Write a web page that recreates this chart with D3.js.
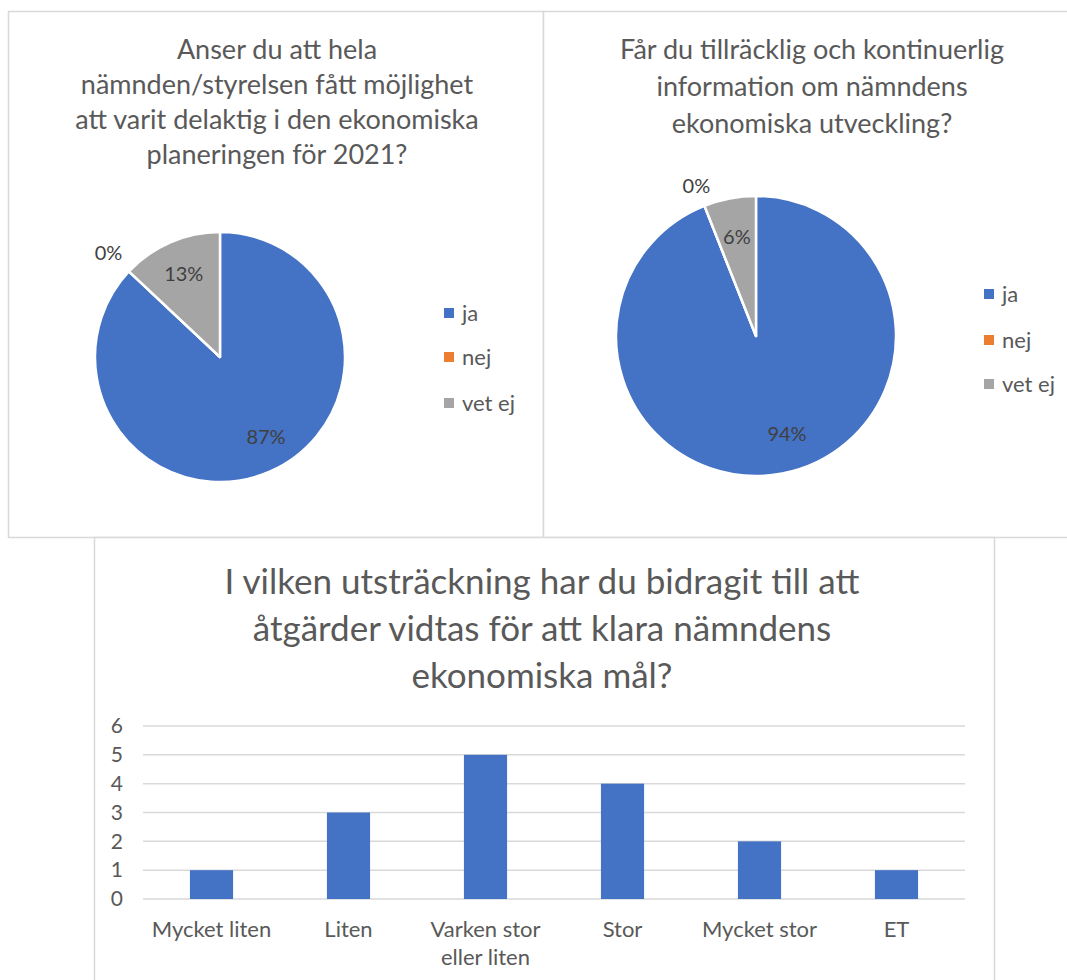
<!DOCTYPE html>
<html>
<head>
<meta charset="utf-8">
<script src="https://cdn.jsdelivr.net/npm/d3@7"></script>
<style>
  body { margin: 0; background: #fff; }
  svg { display: block; font-family: Lato, "Open Sans", sans-serif; }
</style>
</head>
<body>
<div id="chart"></div>
<script>
// pie data (percent)
const pieKeys = ["ja", "nej", "vet ej"];
const pieColors = ["#4472c4", "#ed7d31", "#a5a5a5"];
const pie1Values = [87, 0, 13];
const pie2Values = [94, 0, 6];
const pie1Title = ["Anser du att hela", "nämnden/styrelsen fått möjlighet", "att varit delaktig i den ekonomiska", "planeringen för 2021?"];
const pie2Title = ["Får du tillräcklig och kontinuerlig", "information om nämndens", "ekonomiska utveckling?"];

// bar data
const barCategories = ["Mycket liten", "Liten", "Varken stor eller liten", "Stor", "Mycket stor", "ET"];
const barValues = [1, 3, 5, 4, 2, 1];
const barTicks = [0, 1, 2, 3, 4, 5, 6];
const barTitle = ["I vilken utsträckning har du bidragit till att", "åtgärder vidtas för att klara nämndens", "ekonomiska mål?"];

const W = 1067, H = 980;
const FONT = "Lato, 'Open Sans', sans-serif";
const svg = d3.select("#chart").append("svg")
  .attr("width", W).attr("height", H);

svg.append("rect").attr("width", W).attr("height", H).attr("fill", "#fff");

// chart frames
const frames = [
  {x: 8.5, y: 11.5, w: 535, h: 526},
  {x: 543.5, y: 11.5, w: 540, h: 526},
  {x: 94.5, y: 537.5, w: 900, h: 460}
];
frames.forEach(f => {
  svg.append("rect")
    .attr("x", f.x).attr("y", f.y).attr("width", f.w).attr("height", f.h)
    .attr("fill", "#fff").attr("stroke", "#d9d9d9").attr("stroke-width", 1.5);
});

function drawPie(opt) {
  const g = svg.append("g");

  // title
  g.append("text")
    .attr("text-anchor", "middle")
    .attr("font-size", 27)
    .attr("fill", "#595959")
    .selectAll("tspan")
    .data(opt.title)
    .join("tspan")
    .attr("x", opt.titleX)
    .attr("y", (d, i) => opt.titleY + i * opt.lineH)
    .text(d => d);

  const pie = d3.pie().sort(null).value(d => d.value);
  const data = pie(pieKeys.map((k, i) => ({key: k, value: opt.values[i], color: pieColors[i]})));
  const arc = d3.arc().innerRadius(0).outerRadius(opt.r);

  const pg = g.append("g").attr("transform", `translate(${opt.cx},${opt.cy})`);
  pg.selectAll("path")
    .data(data)
    .join("path")
    .attr("d", arc)
    .attr("fill", d => d.data.color)
    .attr("stroke", "#fff")
    .attr("stroke-width", 2.5)
    .attr("stroke-linejoin", "round");

  // data labels: inside for slices, outside for empty ones
  pg.selectAll("text")
    .data(data)
    .join("text")
    .attr("text-anchor", "middle")
    .attr("dominant-baseline", "central")
    .attr("font-size", 20)
    .attr("fill", "#404040")
    .attr("transform", d => {
      let a = (d.startAngle + d.endAngle) / 2;
      // big slice label sits a bit before its middle, like Excel best fit
      if (d.value > 50) a -= 0.12;
      const rr = d.value === 0 ? opt.r + opt.outside : opt.r * 0.73;
      return `translate(${Math.sin(a) * rr},${-Math.cos(a) * rr})`;
    })
    .text(d => d.value + "%");

  // legend
  const lg = g.append("g");
  const item = lg.selectAll("g")
    .data(pieKeys)
    .join("g")
    .attr("transform", (d, i) => `translate(${opt.legX},${opt.legY[i]})`);
  item.append("rect")
    .attr("x", 0).attr("y", -5).attr("width", 10).attr("height", 10)
    .attr("fill", (d, i) => pieColors[i]);
  item.append("text")
    .attr("x", 18).attr("dy", "0.35em")
    .attr("font-size", 22).attr("fill", "#595959")
    .text(d => d);
}

drawPie({title: pie1Title, titleX: 277, titleY: 59, lineH: 35,
  values: pie1Values, cx: 220, cy: 357, r: 125, outside: 28,
  legX: 444, legY: [313, 357, 403]});

drawPie({title: pie2Title, titleX: 812, titleY: 59, lineH: 37,
  values: pie2Values, cx: 756, cy: 336, r: 140, outside: 22,
  legX: 984, legY: [294, 340, 384]});

// bar chart
const bg = svg.append("g");
bg.append("text")
  .attr("text-anchor", "middle")
  .attr("font-size", 35)
  .attr("fill", "#595959")
  .selectAll("tspan")
  .data(barTitle)
  .join("tspan")
  .attr("x", 542)
  .attr("y", (d, i) => 594 + i * 47)
  .text(d => d);

const x = d3.scaleBand().domain(barCategories).range([143, 965]).padding(0);
const y = d3.scaleLinear().domain([0, 6]).range([899, 726]);

// gridlines
bg.append("g")
  .selectAll("line")
  .data(barTicks)
  .join("line")
  .attr("x1", 143).attr("x2", 965)
  .attr("y1", d => y(d)).attr("y2", d => y(d))
  .attr("stroke", "#d9d9d9").attr("stroke-width", 1.5);

const yAxis = bg.append("g")
  .attr("transform", "translate(127,0)")
  .call(d3.axisLeft(y).tickValues(barTicks).tickFormat(d3.format("d")).tickSize(0).tickPadding(4));
yAxis.select(".domain").remove();
yAxis.selectAll("text").attr("font-size", 21).attr("fill", "#595959")
  .attr("font-family", FONT);

const barW = x.bandwidth() * 0.315;
bg.append("g")
  .selectAll("rect")
  .data(barValues)
  .join("rect")
  .attr("x", (d, i) => x(barCategories[i]) + (x.bandwidth() - barW) / 2)
  .attr("y", d => y(d))
  .attr("width", barW)
  .attr("height", d => y(0) - y(d))
  .attr("fill", "#4472c4");

// category labels, wrapped like the original
const catLines = {"Varken stor eller liten": ["Varken stor", "eller liten"]};
const xAxis = bg.append("g")
  .attr("transform", `translate(0,${y(0)})`)
  .call(d3.axisBottom(x).tickSize(0).tickFormat(""));
xAxis.select(".domain").remove();
xAxis.selectAll(".tick").append("text")
  .attr("text-anchor", "middle")
  .attr("font-size", 22)
  .attr("fill", "#595959")
  .attr("font-family", FONT)
  .selectAll("tspan")
  .data(d => catLines[d] || [d])
  .join("tspan")
  .attr("x", 0)
  .attr("y", (d, i) => 38 + i * 28)
  .text(d => d);
</script>
</body>
</html>
